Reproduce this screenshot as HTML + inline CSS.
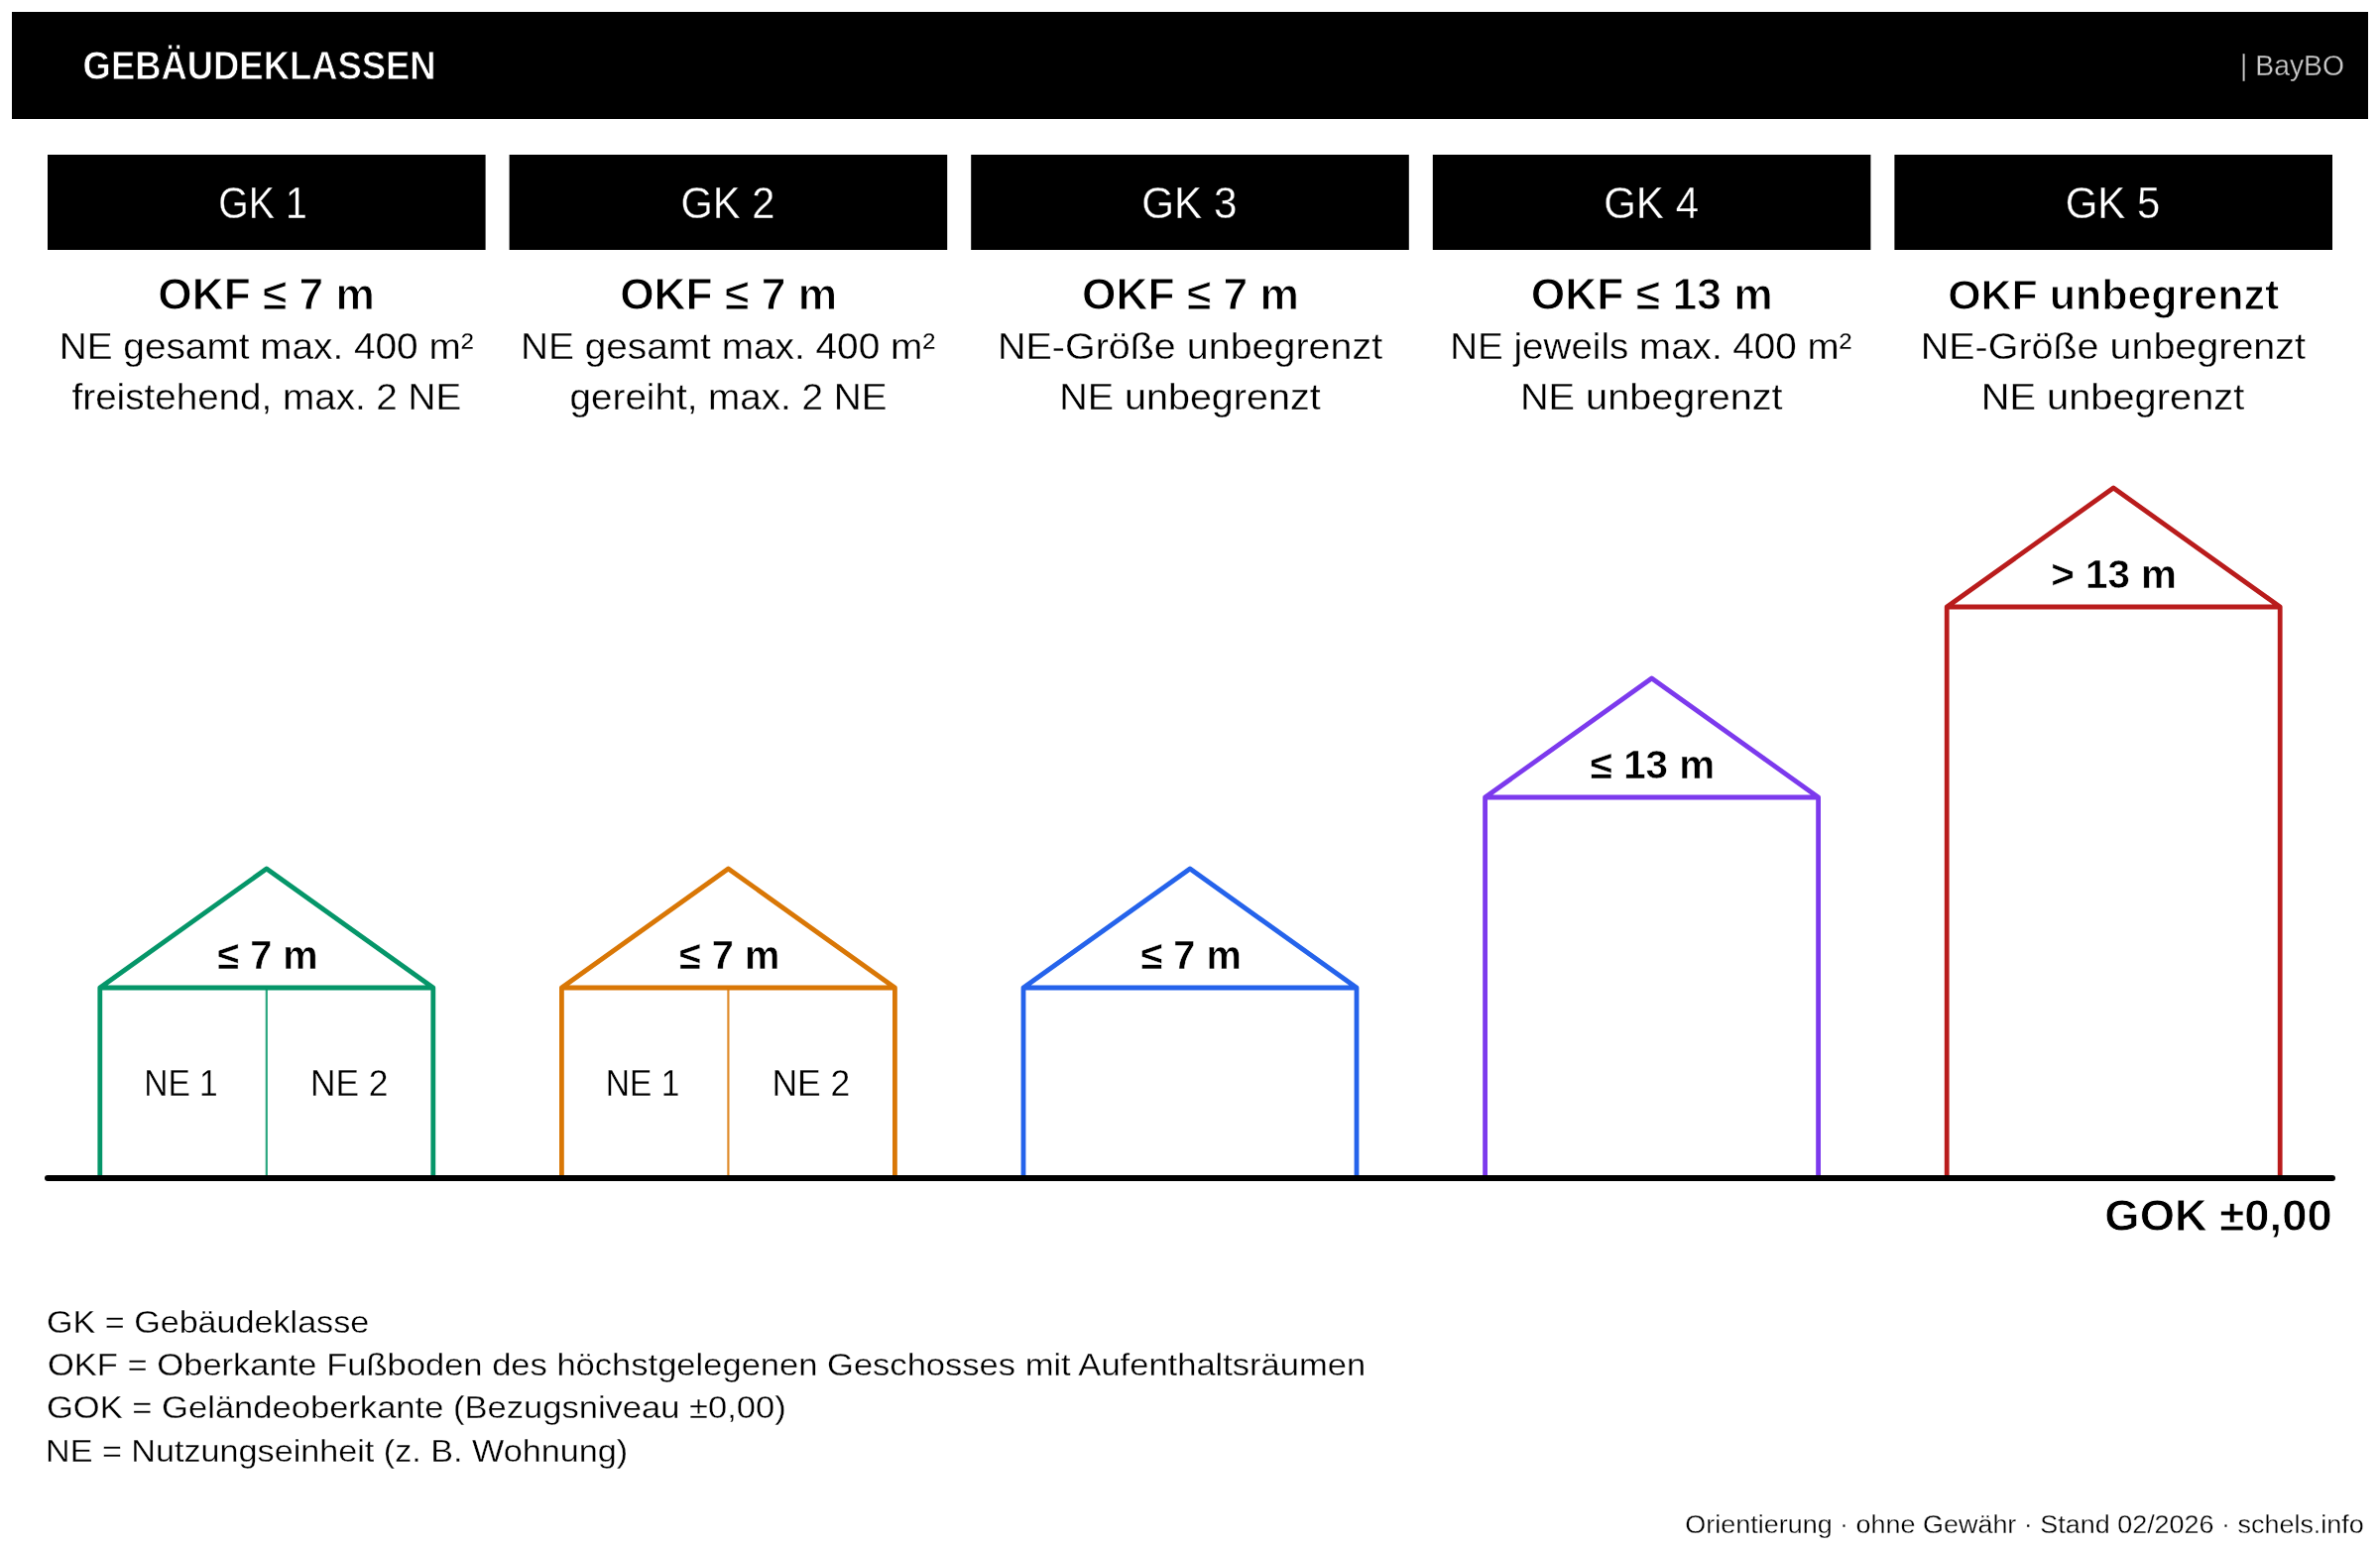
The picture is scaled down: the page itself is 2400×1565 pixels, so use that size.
<!DOCTYPE html>
<html><head><meta charset="utf-8"><title>Gebäudeklassen</title>
<style>html,body{margin:0;padding:0;background:#fff;overflow:hidden;}svg{display:block;font-family:"Liberation Sans", sans-serif;will-change:transform;}</style>
</head><body>
<svg width="2400" height="1565" viewBox="0 0 2400 1565">
<rect width="2400" height="1565" fill="#fff"/>
<rect x="12" y="12" width="2376" height="108" fill="#000"/>
<rect x="48.0" y="156" width="441.6" height="96" fill="#000"/>
<rect x="513.6" y="156" width="441.6" height="96" fill="#000"/>
<rect x="979.2" y="156" width="441.6" height="96" fill="#000"/>
<rect x="1444.8" y="156" width="441.6" height="96" fill="#000"/>
<rect x="1910.4" y="156" width="441.6" height="96" fill="#000"/>
<path d="M100.8 1188 V996 L268.8 876 L436.8 996 V1188 M100.8 996 H436.8" fill="none" stroke="#059669" stroke-width="4.8" stroke-linejoin="round"/>
<line x1="268.8" y1="996" x2="268.8" y2="1188" stroke="#059669" stroke-width="2.2" stroke-opacity="0.85"/>
<path d="M566.4 1188 V996 L734.4 876 L902.4 996 V1188 M566.4 996 H902.4" fill="none" stroke="#d97706" stroke-width="4.8" stroke-linejoin="round"/>
<line x1="734.4" y1="996" x2="734.4" y2="1188" stroke="#d97706" stroke-width="2.2" stroke-opacity="0.85"/>
<path d="M1032.0 1188 V996 L1200.0 876 L1368.0 996 V1188 M1032.0 996 H1368.0" fill="none" stroke="#2563eb" stroke-width="4.8" stroke-linejoin="round"/>
<path d="M1497.6 1188 V804 L1665.6 684 L1833.6 804 V1188 M1497.6 804 H1833.6" fill="none" stroke="#7c3aed" stroke-width="4.8" stroke-linejoin="round"/>
<path d="M1963.2 1188 V612 L2131.2 492 L2299.2 612 V1188 M1963.2 612 H2299.2" fill="none" stroke="#b91c1c" stroke-width="4.8" stroke-linejoin="round"/>
<line x1="48" y1="1188" x2="2352" y2="1188" stroke="#000" stroke-width="6" stroke-linecap="round"/>
<text x="261.60" y="80.1" font-size="41.0" font-weight="bold" fill="#fff" text-anchor="middle" textLength="356.06" lengthAdjust="spacingAndGlyphs" stroke="#000" stroke-width="0.8">GEBÄUDEKLASSEN</text>
<text x="2311.50" y="76.4" font-size="29" font-weight="normal" fill="#c8c8c8" text-anchor="middle" textLength="104.82" lengthAdjust="spacingAndGlyphs" stroke="#000" stroke-width="0.3">| BayBO</text>
<text x="265.00" y="220" font-size="44" font-weight="normal" fill="#fff" text-anchor="middle" textLength="89.43" lengthAdjust="spacingAndGlyphs" stroke="#000" stroke-width="0.35">GK 1</text>
<text x="268.60" y="312.2" font-size="44.4" font-weight="bold" fill="#000" text-anchor="middle" textLength="218.51" lengthAdjust="spacingAndGlyphs" stroke="#fff" stroke-width="1.0">OKF ≤ 7 m</text>
<text x="268.70" y="362.4" font-size="37.6" font-weight="normal" fill="#000" text-anchor="middle" textLength="417.86" lengthAdjust="spacingAndGlyphs" stroke="#fff" stroke-width="0.3">NE gesamt max. 400 m²</text>
<text x="268.90" y="412.7" font-size="37.6" font-weight="normal" fill="#000" text-anchor="middle" textLength="392.62" lengthAdjust="spacingAndGlyphs" stroke="#fff" stroke-width="0.3">freistehend, max. 2 NE</text>
<text x="270.00" y="977.3" font-size="39.8" font-weight="bold" fill="#000" text-anchor="middle" textLength="101.35" lengthAdjust="spacingAndGlyphs" stroke="#fff" stroke-width="0.5">≤ 7 m</text>
<text x="733.90" y="220" font-size="44" font-weight="normal" fill="#fff" text-anchor="middle" textLength="94.76" lengthAdjust="spacingAndGlyphs" stroke="#000" stroke-width="0.35">GK 2</text>
<text x="734.60" y="312.2" font-size="44.4" font-weight="bold" fill="#000" text-anchor="middle" textLength="218.94" lengthAdjust="spacingAndGlyphs" stroke="#fff" stroke-width="1.0">OKF ≤ 7 m</text>
<text x="734.10" y="362.4" font-size="37.6" font-weight="normal" fill="#000" text-anchor="middle" textLength="418.25" lengthAdjust="spacingAndGlyphs" stroke="#fff" stroke-width="0.3">NE gesamt max. 400 m²</text>
<text x="734.50" y="412.7" font-size="37.6" font-weight="normal" fill="#000" text-anchor="middle" textLength="319.87" lengthAdjust="spacingAndGlyphs" stroke="#fff" stroke-width="0.3">gereiht, max. 2 NE</text>
<text x="735.60" y="977.3" font-size="39.8" font-weight="bold" fill="#000" text-anchor="middle" textLength="101.37" lengthAdjust="spacingAndGlyphs" stroke="#fff" stroke-width="0.5">≤ 7 m</text>
<text x="1199.40" y="220" font-size="44" font-weight="normal" fill="#fff" text-anchor="middle" textLength="96.23" lengthAdjust="spacingAndGlyphs" stroke="#000" stroke-width="0.35">GK 3</text>
<text x="1200.50" y="312.2" font-size="44.4" font-weight="bold" fill="#000" text-anchor="middle" textLength="219.12" lengthAdjust="spacingAndGlyphs" stroke="#fff" stroke-width="1.0">OKF ≤ 7 m</text>
<text x="1200.10" y="362.4" font-size="37.6" font-weight="normal" fill="#000" text-anchor="middle" textLength="388.25" lengthAdjust="spacingAndGlyphs" stroke="#fff" stroke-width="0.3">NE-Größe unbegrenzt</text>
<text x="1199.90" y="412.7" font-size="37.6" font-weight="normal" fill="#000" text-anchor="middle" textLength="263.45" lengthAdjust="spacingAndGlyphs" stroke="#fff" stroke-width="0.3">NE unbegrenzt</text>
<text x="1201.20" y="977.3" font-size="39.8" font-weight="bold" fill="#000" text-anchor="middle" textLength="101.36" lengthAdjust="spacingAndGlyphs" stroke="#fff" stroke-width="0.5">≤ 7 m</text>
<text x="1665.10" y="220" font-size="44" font-weight="normal" fill="#fff" text-anchor="middle" textLength="95.92" lengthAdjust="spacingAndGlyphs" stroke="#000" stroke-width="0.35">GK 4</text>
<text x="1665.70" y="312.2" font-size="44.4" font-weight="bold" fill="#000" text-anchor="middle" textLength="243.91" lengthAdjust="spacingAndGlyphs" stroke="#fff" stroke-width="1.0">OKF ≤ 13 m</text>
<text x="1664.80" y="362.4" font-size="37.6" font-weight="normal" fill="#000" text-anchor="middle" textLength="405.24" lengthAdjust="spacingAndGlyphs" stroke="#fff" stroke-width="0.3">NE jeweils max. 400 m²</text>
<text x="1665.30" y="412.7" font-size="37.6" font-weight="normal" fill="#000" text-anchor="middle" textLength="264.68" lengthAdjust="spacingAndGlyphs" stroke="#fff" stroke-width="0.3">NE unbegrenzt</text>
<text x="1666.50" y="785.3" font-size="39.8" font-weight="bold" fill="#000" text-anchor="middle" textLength="125.52" lengthAdjust="spacingAndGlyphs" stroke="#fff" stroke-width="0.5">≤ 13 m</text>
<text x="2130.50" y="220" font-size="44" font-weight="normal" fill="#fff" text-anchor="middle" textLength="95.61" lengthAdjust="spacingAndGlyphs" stroke="#000" stroke-width="0.35">GK 5</text>
<text x="2131.20" y="312.2" font-size="43.0" font-weight="bold" fill="#000" text-anchor="middle" textLength="334.05" lengthAdjust="spacingAndGlyphs" stroke="#fff" stroke-width="1.0">OKF unbegrenzt</text>
<text x="2130.90" y="362.4" font-size="37.6" font-weight="normal" fill="#000" text-anchor="middle" textLength="388.24" lengthAdjust="spacingAndGlyphs" stroke="#fff" stroke-width="0.3">NE-Größe unbegrenzt</text>
<text x="2130.50" y="412.7" font-size="37.6" font-weight="normal" fill="#000" text-anchor="middle" textLength="265.48" lengthAdjust="spacingAndGlyphs" stroke="#fff" stroke-width="0.3">NE unbegrenzt</text>
<text x="2131.60" y="593.3" font-size="39.8" font-weight="bold" fill="#000" text-anchor="middle" textLength="126.59" lengthAdjust="spacingAndGlyphs" stroke="#fff" stroke-width="0.5">> 13 m</text>
<text x="182.50" y="1104.5" font-size="36.5" font-weight="normal" fill="#000" text-anchor="middle" textLength="74.60" lengthAdjust="spacingAndGlyphs" stroke="#fff" stroke-width="0.3">NE 1</text>
<text x="352.20" y="1104.5" font-size="36.5" font-weight="normal" fill="#000" text-anchor="middle" textLength="78.64" lengthAdjust="spacingAndGlyphs" stroke="#fff" stroke-width="0.3">NE 2</text>
<text x="648.10" y="1104.5" font-size="36.5" font-weight="normal" fill="#000" text-anchor="middle" textLength="74.52" lengthAdjust="spacingAndGlyphs" stroke="#fff" stroke-width="0.3">NE 1</text>
<text x="817.80" y="1104.5" font-size="36.5" font-weight="normal" fill="#000" text-anchor="middle" textLength="78.74" lengthAdjust="spacingAndGlyphs" stroke="#fff" stroke-width="0.3">NE 2</text>
<text x="2237.00" y="1240.8" font-size="44.4" font-weight="bold" fill="#000" text-anchor="middle" textLength="229.31" lengthAdjust="spacingAndGlyphs" stroke="#fff" stroke-width="0.8">GOK ±0,00</text>
<text x="209.60" y="1343.7" font-size="31.6" font-weight="normal" fill="#000" text-anchor="middle" textLength="325.25" lengthAdjust="spacingAndGlyphs" stroke="#fff" stroke-width="0.3">GK = Gebäudeklasse</text>
<text x="712.60" y="1387.4" font-size="31.6" font-weight="normal" fill="#000" text-anchor="middle" textLength="1329.22" lengthAdjust="spacingAndGlyphs" stroke="#fff" stroke-width="0.3">OKF = Oberkante Fußboden des höchstgelegenen Geschosses mit Aufenthaltsräumen</text>
<text x="419.90" y="1430.4" font-size="31.6" font-weight="normal" fill="#000" text-anchor="middle" textLength="745.84" lengthAdjust="spacingAndGlyphs" stroke="#fff" stroke-width="0.3">GOK = Geländeoberkante (Bezugsniveau ±0,00)</text>
<text x="339.50" y="1474.1" font-size="31.6" font-weight="normal" fill="#000" text-anchor="middle" textLength="587.05" lengthAdjust="spacingAndGlyphs" stroke="#fff" stroke-width="0.3">NE = Nutzungseinheit (z. B. Wohnung)</text>
<text x="2041.60" y="1545.5" font-size="26.5" font-weight="normal" fill="#000" text-anchor="middle" textLength="684.43" lengthAdjust="spacingAndGlyphs" stroke="#fff" stroke-width="0.3">Orientierung · ohne Gewähr · Stand 02/2026 · schels.info</text>
</svg>
</body></html>
